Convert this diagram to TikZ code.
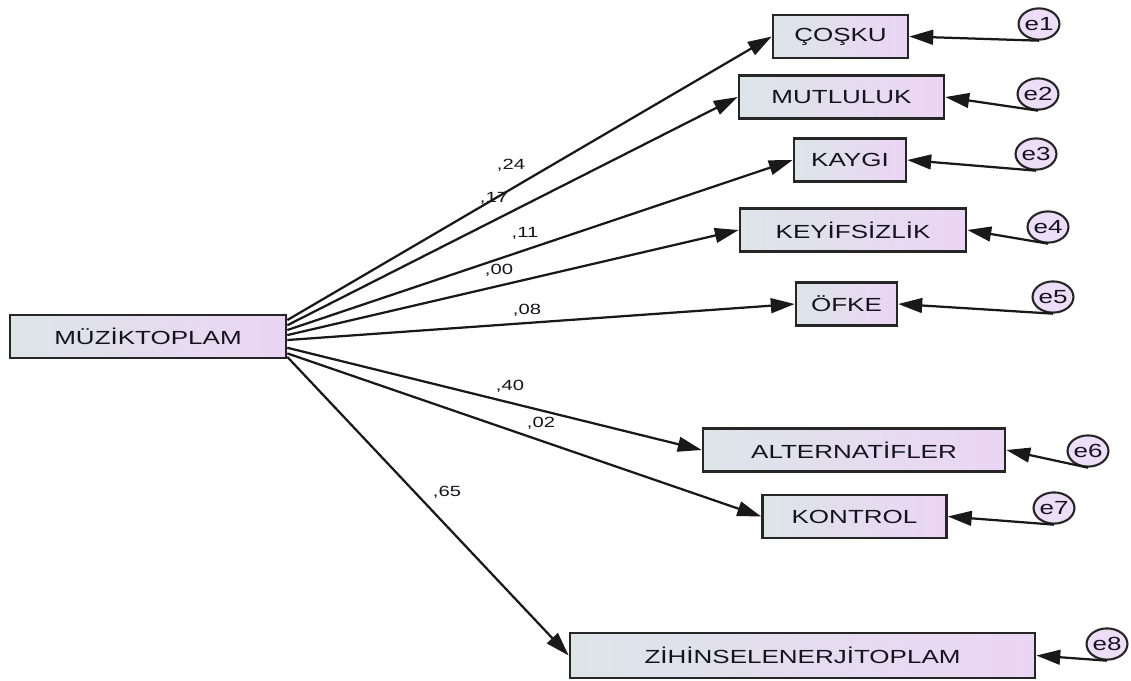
\documentclass[tikz,border=0pt]{standalone}
\usepackage{fontspec}
\setmainfont{Liberation Sans}[FakeStretch=1.37]
\usetikzlibrary{arrows.meta,shapes.geometric}
\definecolor{boxl}{HTML}{DDE5E9}
\definecolor{boxr}{HTML}{EBD5F4}
\definecolor{boxline}{HTML}{262626}
\definecolor{errfill}{HTML}{EEDDF6}
\definecolor{textc}{HTML}{14141E}

\begin{document}
\begin{tikzpicture}[x=0.025cm,y=-0.025cm,font=\fontsize{13.5}{15}\selectfont,text=textc,
  var/.style={draw=boxline,line width=1.8pt,left color=boxl,right color=boxr,minimum height=1.08cm,inner sep=0pt},
  err/.style={ellipse,draw=boxline,line width=1.5pt,fill=errfill,minimum width=1.02cm,minimum height=0.78cm,inner sep=0pt},
  coef/.style={font=\fontsize{10.5}{12}\selectfont},
  regline/.style={line width=1.6pt,draw=black!90,-{Triangle[length=17pt,width=10.5pt]}}]
\useasboundingbox (0,0) rectangle (1131,680);
\node[var,minimum width=6.9cm] (muzik) at (148,336.5) {MÜZİKTOPLAM};
\node[var,minimum width=3.375cm] (cosku) at (840.5,36.5) {ÇOŞKU};
\node[var,minimum width=5.125cm] (mutluluk) at (841.5,97) {MUTLULUK};
\node[var,minimum width=2.8cm] (kaygi) at (850,160) {KAYGI};
\node[var,minimum width=5.65cm] (keyif) at (853,230) {KEYİFSİZLİK};
\node[var,minimum width=2.525cm] (ofke) at (846.5,304) {ÖFKE};
\node[var,minimum width=7.55cm] (alter) at (854,450) {ALTERNATİFLER};
\node[var,minimum width=4.6cm] (kontrol) at (854.5,516.5) {KONTROL};
\node[var,minimum width=11.625cm,minimum height=1.12cm] (zihin) at (802.5,655.5) {ZİHİNSELENERJİTOPLAM};
\node[err] (e1) at (1039,24) {e1};
\node[err] (e2) at (1038,94) {e2};
\node[err] (e3) at (1036,154) {e3};
\node[err] (e4) at (1048,227) {e4};
\node[err] (e5) at (1053,297) {e5};
\node[err] (e6) at (1088,451) {e6};
\node[err] (e7) at (1054,508) {e7};
\node[err] (e8) at (1107,644) {e8};
\node[coef] (c1) at (511,165) {,24};
\node[coef] (c2) at (494,198) {,17};
\node[coef] (c3) at (525,233) {,11};
\node[coef] (c4) at (499,270) {,00};
\node[coef] (c5) at (527,310) {,08};
\node[coef] (c6) at (510,386) {,40};
\node[coef] (c7) at (541,423) {,02};
\node[coef] (c8) at (447,492) {,65};
\draw[regline] ([yshift=11.7pt]muzik.east) -- (cosku.west);
\draw[regline] ([yshift=8pt]muzik.east) -- (mutluluk.west);
\draw[regline] ([yshift=4.6pt]muzik.east) -- (kaygi.west);
\draw[regline] ([yshift=1pt]muzik.east) -- (keyif.west);
\draw[regline] ([yshift=-2.5pt]muzik.east) -- (ofke.west);
\draw[regline] ([yshift=-8pt]muzik.east) -- (alter.west);
\draw[regline] ([yshift=-12pt]muzik.east) -- (kontrol.west);
\draw[regline] ([yshift=-14.5pt]muzik.east) -- (zihin.west);
\draw[regline] (e1.south) -- (cosku.east);
\draw[regline] (e2.south) -- (mutluluk.east);
\draw[regline] (e3.south) -- (kaygi.east);
\draw[regline] (e4.south) -- (keyif.east);
\draw[regline] (e5.south) -- (ofke.east);
\draw[regline] (e6.south) -- (alter.east);
\draw[regline] (e7.south) -- (kontrol.east);
\draw[regline] (e8.south) -- (zihin.east);
\end{tikzpicture}
\end{document}
